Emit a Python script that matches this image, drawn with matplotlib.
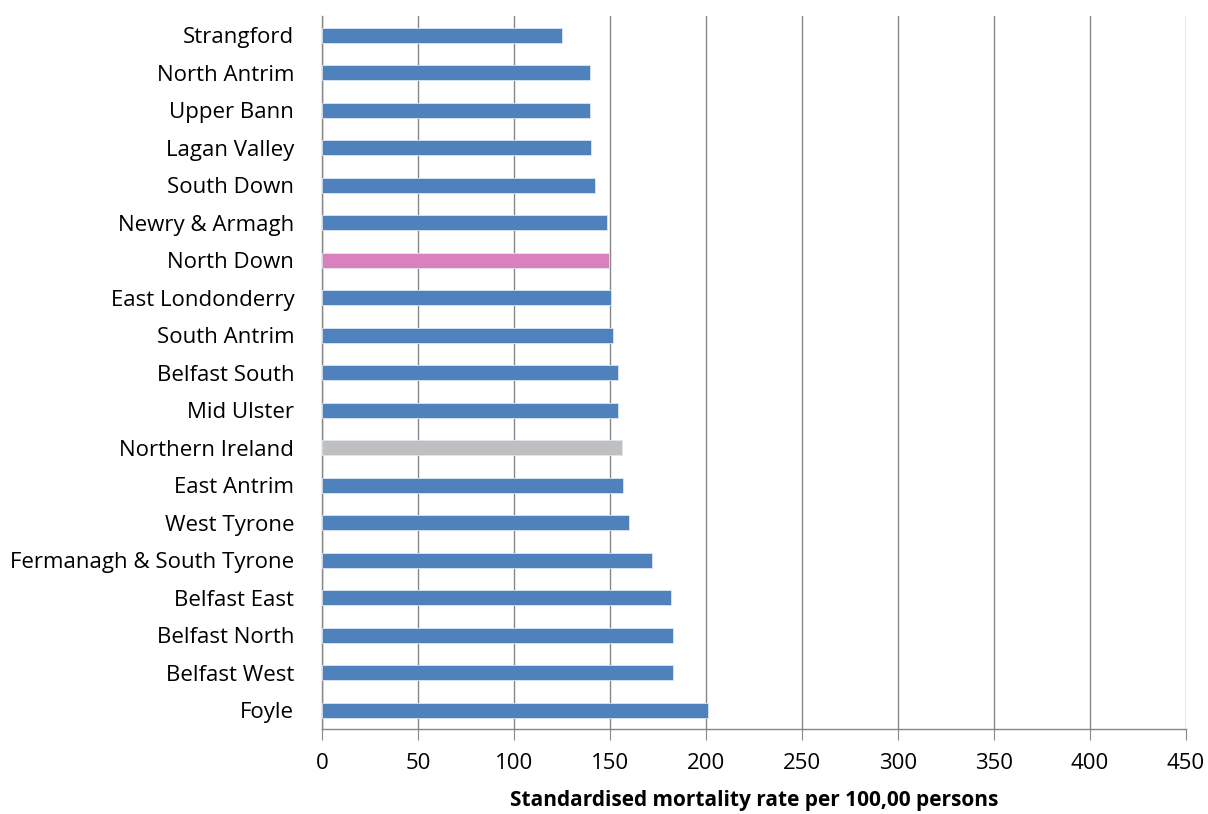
import matplotlib.pyplot as plt
import numpy as np

# Data (top to bottom as shown)
areas = [
    "Strangford", "North Antrim", "Upper Bann", "Lagan Valley", "South Down",
    "Newry & Armagh", "North Down", "East Londonderry", "South Antrim",
    "Belfast South", "Mid Ulster", "Northern Ireland", "East Antrim",
    "West Tyrone", "Fermanagh & South Tyrone", "Belfast East",
    "Belfast North", "Belfast West", "Foyle",
]
rates = [
    125.1, 139.4, 139.4, 140.3, 142.0,
    148.6, 149.2, 150.4, 151.8,
    153.9, 153.9, 156.3, 157.0,
    160.1, 171.8, 181.6,
    183.0, 183.0, 201.1,
]
x_ticks = [0, 50, 100, 150, 200, 250, 300, 350, 400, 450]

blue = "#4F81BD"
colors = [blue] * len(areas)
colors[areas.index("North Down")] = "#DA80BE"
colors[areas.index("Northern Ireland")] = "#BFBFBF"

plt.rcParams["font.family"] = ["Open Sans", "DejaVu Sans"]

fig = plt.figure(figsize=(12.08, 8.14), dpi=100)
ax = fig.add_axes([0.2666, 0.1044, 0.7152, 0.8756])

y = np.arange(len(areas))
ax.barh(y, rates, height=0.4, color=colors, edgecolor="#DCE6F2", linewidth=0.6, zorder=3)

ax.set_ylim(len(areas) - 0.5, -0.5)
ax.set_xlim(0, 450)
ax.set_yticks(y)
ax.set_yticklabels(areas, fontsize=16)
ax.tick_params(axis="y", length=0, pad=20)

ax.set_xticks(x_ticks)
ax.set_xticklabels([str(t) for t in x_ticks], fontsize=16)
ax.tick_params(axis="x", direction="out", length=8, color="#868686", pad=9)

ax.grid(axis="x", color="#868686", linewidth=1.0, zorder=0)
ax.grid(axis="y", visible=False)

for side in ["top", "right"]:
    ax.spines[side].set_visible(False)
for side in ["left", "bottom"]:
    ax.spines[side].set_color("#868686")
    ax.spines[side].set_linewidth(1.0)

ax.set_xlabel("Standardised mortality rate per 100,00 persons", fontsize=15,
              fontweight="bold", labelpad=12)

fig.savefig("out.png", dpi=100)
plt.close(fig)
